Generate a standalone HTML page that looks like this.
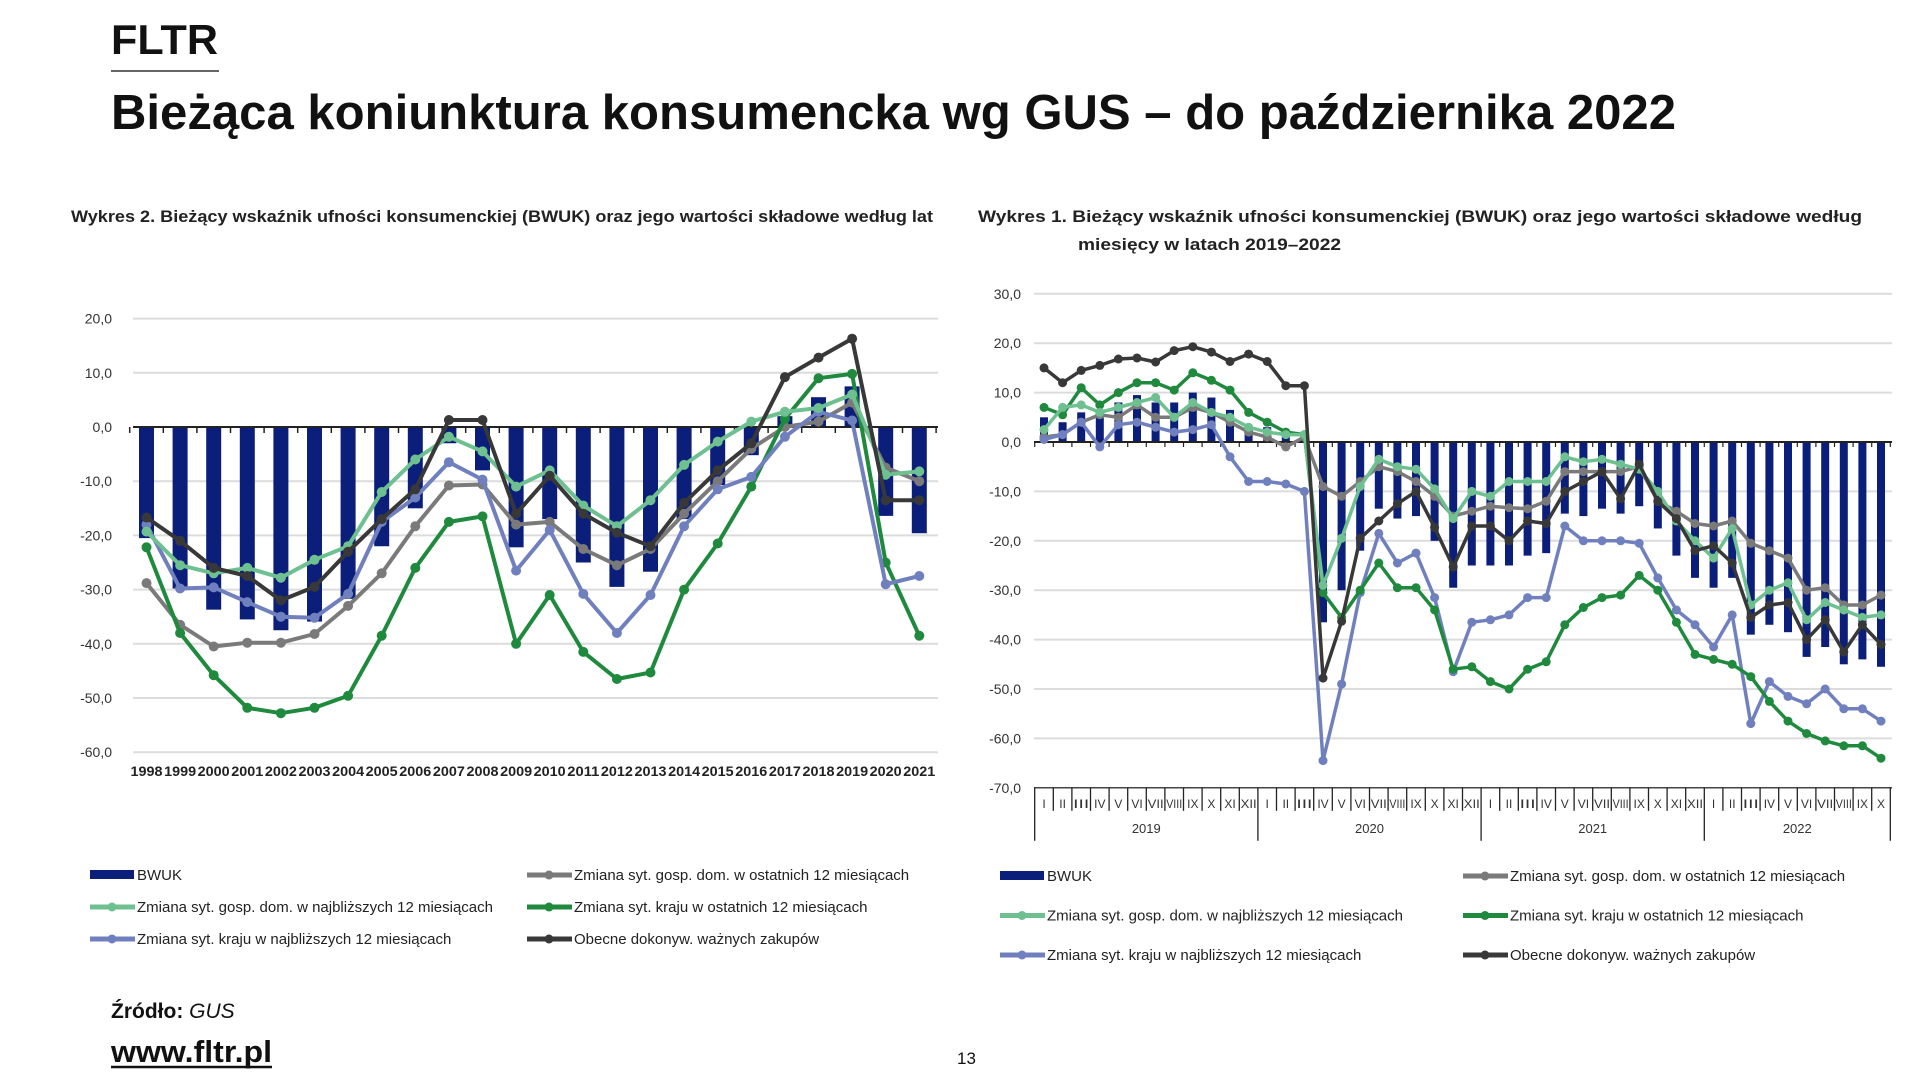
<!DOCTYPE html>
<html><head><meta charset="utf-8">
<style>
html,body{margin:0;padding:0;background:#fff;width:1920px;height:1080px;overflow:hidden}
svg{display:block}
text{font-family:"Liberation Sans",sans-serif}
</style></head>
<body>
<svg id="s" width="1920" height="1080" viewBox="0 0 1920 1080" xmlns="http://www.w3.org/2000/svg">
<rect width="1920" height="1080" fill="#fff"/>
<text x="111" y="54" font-size="42" font-weight="bold" fill="#111" textLength="107" lengthAdjust="spacingAndGlyphs">FLTR</text>
<line x1="111" y1="71" x2="219" y2="71" stroke="#333" stroke-width="1.5"/>
<text x="111" y="129" font-size="49" font-weight="bold" fill="#111" textLength="1565" lengthAdjust="spacingAndGlyphs">Bieżąca koniunktura konsumencka wg GUS – do października 2022</text>
<text x="71" y="222" font-size="17" font-weight="bold" fill="#222" textLength="862" lengthAdjust="spacingAndGlyphs">Wykres 2. Bieżący wskaźnik ufności konsumenckiej (BWUK) oraz jego wartości składowe według lat</text>
<text x="978" y="222" font-size="17" font-weight="bold" fill="#222" textLength="884" lengthAdjust="spacingAndGlyphs">Wykres 1. Bieżący wskaźnik ufności konsumenckiej (BWUK) oraz jego wartości składowe według</text>
<text x="1078" y="250" font-size="17" font-weight="bold" fill="#222" textLength="263" lengthAdjust="spacingAndGlyphs">miesięcy w latach 2019–2022</text>
<text x="111" y="1018" font-size="21" fill="#111"><tspan font-weight="bold">Źródło:</tspan> <tspan font-style="italic">GUS</tspan></text>
<text x="111" y="1062" font-size="31" font-weight="bold" fill="#111" textLength="161" lengthAdjust="spacingAndGlyphs">www.fltr.pl</text>
<line x1="111" y1="1067" x2="272" y2="1067" stroke="#111" stroke-width="2.5"/>
<text x="957" y="1064" font-size="17" fill="#111">13</text>
<g id="g"></g>
</svg>
<script>
var g=document.getElementById('g'),h='';
var C={bw:'#0b1f7a',bk:'#383838',gr:'#7a7a7a',lg:'#6fc090',dg:'#1f8a3e',bl:'#7080be'};
function line(x1,y1,x2,y2,c,w){h+='<line x1="'+x1+'" y1="'+y1+'" x2="'+x2+'" y2="'+y2+'" stroke="'+c+'" stroke-width="'+w+'"/>';}
function txt(x,y,s,fs,anc,c,extra){h+='<text x="'+x+'" y="'+y+'" font-size="'+fs+'" text-anchor="'+(anc||'start')+'" fill="'+(c||'#333')+'" '+(extra||'')+'>'+s+'</text>';}
function series(xs,vals,yf,c,w,r){var p=vals.map(function(v,i){return xs(i).toFixed(1)+','+yf(v).toFixed(1)}).join(' ');
 h+='<polyline points="'+p+'" fill="none" stroke="'+c+'" stroke-width="'+w+'" stroke-linejoin="round"/>';
 vals.forEach(function(v,i){h+='<circle cx="'+xs(i).toFixed(1)+'" cy="'+yf(v).toFixed(1)+'" r="'+r+'" fill="'+c+'"/>';});}
// LEFT
var ly=function(v){return 427-v*5.42}, lx=function(i){return 146.5+33.6*i};
for(var v=20;v>=-60;v-=10){ if(v!==0) line(133,ly(v),938,ly(v),'#dcdcdc',2); txt(112,ly(v)+5,v+',0',14,'end','#333');}
var L={bw:[-20.5,-29.8,-33.7,-35.5,-37.5,-35.9,-31.7,-22,-15,-3,-8,-22.2,-17,-25,-29.5,-26.7,-17,-10.7,-5.2,2,5.5,7.5,-16.4,-19.6],
bk:[-16.7,-21,-26,-27.5,-32,-29.5,-23,-17,-11.5,1.3,1.3,-16,-9,-16,-19.5,-22,-14,-8,-3,9.2,12.8,16.3,-13.5,-13.5],
gr:[-28.8,-36.5,-40.5,-39.8,-39.8,-38.2,-33,-27,-18.3,-10.8,-10.6,-18,-17.5,-22.5,-25.5,-22.5,-16,-10,-4,0,1,4.5,-7.5,-10],
lg:[-19.3,-25.5,-27,-26,-27.8,-24.5,-22,-12,-6,-1.8,-4.5,-11,-8,-14.5,-18.3,-13.5,-7,-2.7,1,2.8,3.5,6,-8.8,-8.2],
dg:[-22.2,-38,-45.8,-51.8,-52.8,-51.8,-49.6,-38.5,-26,-17.5,-16.5,-40,-31,-41.5,-46.5,-45.3,-30,-21.5,-11,1.5,9,9.8,-25,-38.5],
bl:[-18,-29.8,-29.6,-32.3,-35,-35.2,-30.8,-17.5,-13,-6.5,-9.7,-26.5,-19,-30.8,-38,-31,-18.3,-11.5,-9.2,-1.8,2.8,1.2,-29,-27.5]};
L.bw.forEach(function(v,i){var y0=ly(0),y1=ly(v);h+='<rect x="'+(lx(i)-7.5)+'" y="'+Math.min(y0,y1)+'" width="15" height="'+Math.abs(y1-y0)+'" fill="'+C.bw+'"/>';});
line(133,ly(0),938,ly(0),'#222',2);
for(var i=0;i<=24;i++){line(lx(i)-16.8,ly(0),lx(i)-16.8,ly(0)+6,'#222',1.5);}
['gr','dg','bl','lg','bk'].forEach(function(k){series(lx,L[k],ly,C[k],4,5);});
for(var i=0;i<24;i++) txt(lx(i),776,1998+i,14,'middle','#222','font-weight="bold" textLength="32" lengthAdjust="spacingAndGlyphs"');
// RIGHT
var ry=function(v){return 442-v*4.94}, rx=function(i){return 1044+18.6*i};
for(var v=30;v>=-70;v-=10){ if(v!==0&&v!==-70) line(1034,ry(v),1892,ry(v),'#dcdcdc',2); txt(1021,ry(v)+5,v+',0',14,'end','#333');}
var R={bw:[5,4,6,5,8,9.5,8,8,10,9,6.5,3,3,2,1,-36.5,-30,-22,-13.5,-15.5,-15,-20,-29.5,-25,-25,-25,-23,-22.5,-14.5,-15,-13.5,-14.5,-13,-17.5,-23,-27.5,-29.5,-27.5,-39,-37,-38.5,-43.5,-41.5,-45,-44,-45.5],
bk:[15,12,14.5,15.5,16.8,17,16.2,18.5,19.3,18.2,16.3,17.8,16.3,11.4,11.4,-47.8,-36.3,-19.5,-16,-12.5,-10,-17.3,-25.3,-17,-17,-20,-16,-16.5,-10,-8,-6,-11.5,-4.5,-12,-15.5,-22,-21,-24.5,-35.5,-33,-32.5,-40,-36,-42.5,-37,-41],
gr:[1,1.5,4,5.5,5,7.5,5,5,7,6,4,2,1,-1,1,-9,-11,-8,-5,-6,-8,-11,-15,-14,-13,-13.3,-13.5,-12,-6,-6,-6,-6,-5,-12,-14,-16.5,-17,-16,-20.5,-22,-23.5,-30,-29.5,-33,-33,-31],
lg:[2.5,7,7.5,6,7,8,9,5,8,6,5,3,2,1.5,1.5,-29,-19.5,-9,-3.5,-5,-5.5,-9.5,-15.5,-10,-11,-8,-8,-8,-3,-4,-3.5,-4.5,-5.5,-10,-16,-20,-23.5,-17.5,-33,-30,-28.5,-36,-32.5,-34,-35.5,-35],
dg:[7,5.5,11,7.5,10,12,12,10.5,14,12.5,10.5,6,4,2,1.5,-30.5,-35.5,-30,-24.5,-29.5,-29.5,-34,-46,-45.5,-48.5,-50,-46,-44.5,-37,-33.5,-31.5,-31,-27,-30,-36.5,-43,-44,-45,-47.5,-52.5,-56.5,-59,-60.5,-61.5,-61.5,-64],
bl:[0.5,1.5,4,-1,3.5,4,3,2,2.5,3.5,-3,-8,-8,-8.5,-10,-64.5,-49,-30.5,-18.5,-24.5,-22.5,-31.5,-46.5,-36.5,-36,-35,-31.5,-31.5,-17,-20,-20,-20,-20.5,-27.5,-34,-37,-41.5,-35,-57,-48.5,-51.5,-53,-50,-54,-54,-56.5]};
R.bw.forEach(function(v,i){var y0=ry(0),y1=ry(v);h+='<rect x="'+(rx(i)-4)+'" y="'+Math.min(y0,y1)+'" width="8" height="'+Math.abs(y1-y0)+'" fill="'+C.bw+'"/>';});
line(1034,ry(0),1892,ry(0),'#222',2);
for(var i=0;i<=46;i++){line(rx(i)-9.3,ry(0),rx(i)-9.3,ry(0)+5,'#222',1.2);}
['gr','bl','dg','lg','bk'].forEach(function(k){series(rx,R[k],ry,C[k],3.5,4.5);});
// month axis
var ay=ry(-70);
line(1034,ay,1892,ay,'#444',1.5);
var M=['I','II','III','IV','V','VI','VII','VIII','IX','X','XI','XII'];
for(var i=0;i<46;i++){var xl=rx(i)-9.3; line(xl,ay,xl,(i%12==0)?ay+53:ay+23,'#222',1.3);
 txt(rx(i),ay+20,M[i%12],12,'middle','#333', M[i%12].length>2?'textLength="16" lengthAdjust="spacingAndGlyphs"':'');}
line(rx(45)+9.3,ay,rx(45)+9.3,ay+53,'#222',1.3);
[2019,2020,2021,2022].forEach(function(y,k){var a=rx(k*12),b=(k==3)?rx(45):rx(k*12+11);txt((a+b)/2,ay+45,y,13,'middle','#333');});
// legends
function leg(x,y,c,label,bar){ if(bar) h+='<rect x="'+x+'" y="'+(y-5)+'" width="44" height="9" fill="'+c+'"/>';
 else {line(x,y,x+45,y,c,5);h+='<circle cx="'+(x+22)+'" cy="'+y+'" r="4.5" fill="'+c+'"/>';}
 txt(x+47,y+5,label,15,'start','#222');}
var Ls=[['bw','BWUK',1],['gr','Zmiana syt. gosp. dom. w ostatnich 12 miesiącach'],['lg','Zmiana syt. gosp. dom. w najbliższych 12 miesiącach'],['dg','Zmiana syt. kraju w ostatnich 12 miesiącach'],['bl','Zmiana syt. kraju w najbliższych 12 miesiącach'],['bk','Obecne dokonyw. ważnych zakupów']];
Ls.forEach(function(l,j){var col=j%2,row=Math.floor(j/2);
 leg(col?527:90,875+row*32,C[l[0]],l[1],l[2]);
 leg(col?1463:1000,876+row*39.5,C[l[0]],l[1],l[2]);});
g.innerHTML=h;
</script>
</body></html>
